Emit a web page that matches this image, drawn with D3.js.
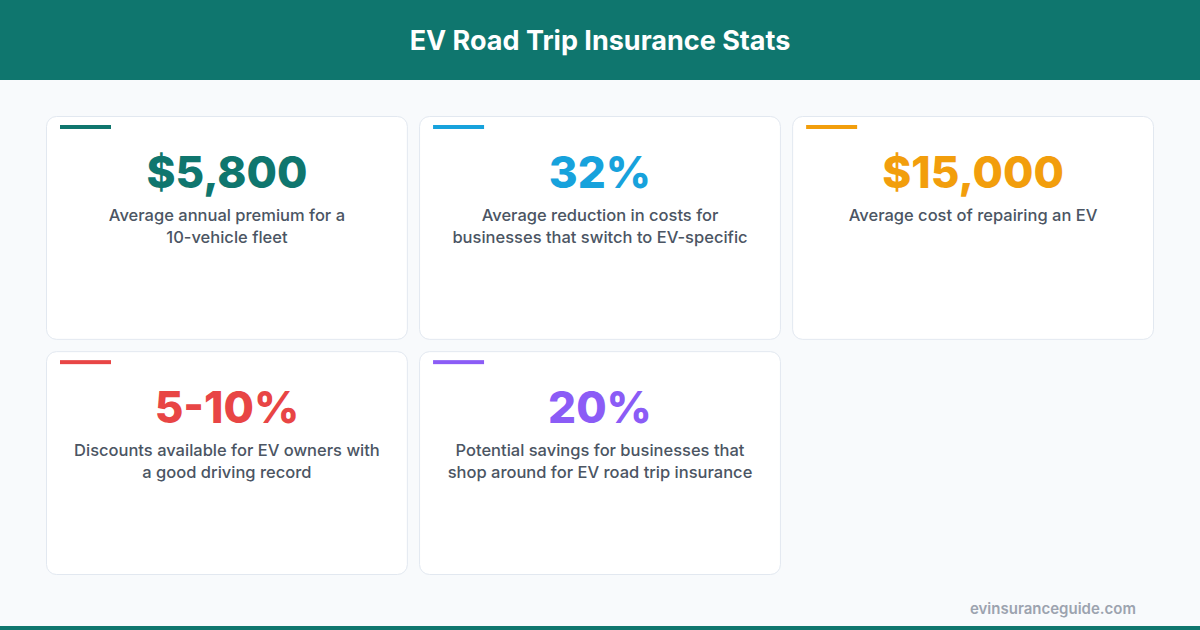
<!DOCTYPE html>
<html><head><meta charset="utf-8">
<script src="https://cdn.jsdelivr.net/npm/d3@7"></script>
<style>body{margin:0;background:#f8fafc;font-family:Inter,"Noto Sans",sans-serif}</style>
</head><body><svg id="c" width="1200" height="630"></svg>
<script>
const values = ["$5,800","32%","$15,000","5-10%","20%"];
const descriptions = [
  ["Average annual premium for a","10-vehicle fleet"],
  ["Average reduction in costs for","businesses that switch to EV-specific"],
  ["Average cost of repairing an EV"],
  ["Discounts available for EV owners with","a good driving record"],
  ["Potential savings for businesses that","shop around for EV road trip insurance"]
];
const colors = ["#0f766e","#17a2dc","#f29e0c","#e84545","#8b5cf6"];
const title = "EV Road Trip Insurance Stats";
const source = "evinsuranceguide.com";

const svg = d3.select("#c");
svg.append("rect").attr("width",1200).attr("height",630).attr("fill","#f8fafc");
svg.append("rect").attr("width",1200).attr("height",80).attr("fill","#0f766e");
svg.append("text").attr("x",600).attr("y",50).attr("text-anchor","middle")
  .attr("fill","#fff").attr("font-size",27).attr("font-weight",700).text(title);
svg.append("rect").attr("y",626).attr("width",1200).attr("height",4).attr("fill","#0f766e");
svg.append("text").attr("x",1136).attr("y",614).attr("text-anchor","end")
  .attr("fill","#9ca3af").attr("font-size",15).attr("font-weight",600).text(source);

const x = d3.scaleBand().domain([0,1,2]).range([46,1154]).paddingInner(0.03);
const y = d3.scaleBand().domain([0,1]).range([116,575]).paddingInner(0.048);
const g = svg.selectAll("g.card").data(values).join("g")
  .attr("transform",(d,i)=>`translate(${x(i%3)},${y(Math.floor(i/3))})`);
g.append("rect").attr("x",0.5).attr("y",0.5).attr("width",x.bandwidth()-1).attr("height",y.bandwidth()-1)
  .attr("rx",10).attr("fill","#fff").attr("stroke","#e2e8f0");
g.append("rect").attr("x",14).attr("y",9).attr("width",51).attr("height",4).attr("fill",(d,i)=>colors[i]);
g.append("text").attr("x",x.bandwidth()/2).attr("y",72).attr("text-anchor","middle")
  .attr("font-size",44).attr("font-weight",800).attr("fill",(d,i)=>colors[i]).text(d=>d);
g.each(function(d,i){
  d3.select(this).selectAll("text.desc").data(descriptions[i]).join("text")
    .attr("x",x.bandwidth()/2).attr("y",(t,j)=>105+j*22).attr("text-anchor","middle")
    .attr("font-size",16.5).attr("font-weight",500).attr("fill","#4b5563").text(t=>t);
});
</script></body></html>
